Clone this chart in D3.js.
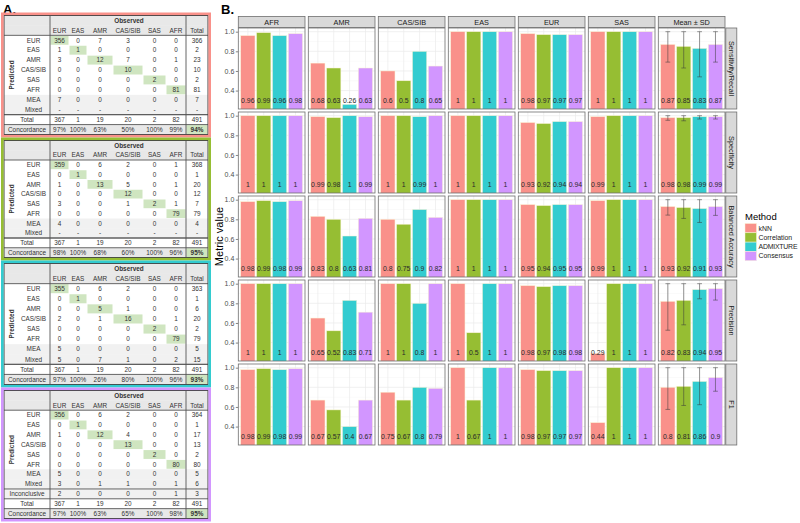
<!DOCTYPE html>
<html><head><meta charset="utf-8">
<script src="https://cdn.jsdelivr.net/npm/d3@7"></script>
<style>body{margin:0;background:#fff} svg{display:block;font-family:"Liberation Sans",Arial,sans-serif}</style>
</head><body><svg id="c" width="800" height="523"></svg>
<script>
// ---------------- DATA ----------------
const methods = ["kNN", "Correlation", "ADMIXTURE", "Consensus"];
const methodColors = ["#F8766D", "#7CAE00", "#00BFC4", "#C77CFF"];
const populations = ["AFR", "AMR", "CAS/SIB", "EAS", "EUR", "SAS"];
const meanLabel = "Mean \u00b1 SD";
const metrics = ["Sensitivity/Recall", "Specificity", "Balanced Accuracy", "Precision", "F1"];
const yTicks = [0.4, 0.6, 0.8, 1.0];

// values per population (rows) x method (cols)
const sensitivity = [[0.96,0.99,0.96,0.98],[0.68,0.63,0.26,0.63],[0.6,0.5,0.8,0.65],[1,1,1,1],[0.98,0.97,0.97,0.97],[1,1,1,1]];
const specificity = [[1,1,1,1],[0.99,0.98,1,0.99],[1,1,0.99,1],[1,1,1,1],[0.93,0.92,0.94,0.94],[0.99,1,1,1]];
const balancedAcc = [[0.98,0.99,0.98,0.99],[0.83,0.8,0.63,0.81],[0.8,0.75,0.9,0.82],[1,1,1,1],[0.95,0.94,0.95,0.95],[0.99,1,1,1]];
const precision   = [[1,1,1,1],[0.65,0.52,0.83,0.71],[1,1,0.8,1],[1,0.5,1,1],[0.98,0.97,0.98,0.98],[0.29,1,1,1]];
const f1          = [[0.98,0.99,0.98,0.99],[0.67,0.57,0.4,0.67],[0.75,0.67,0.8,0.79],[1,0.67,1,1],[0.98,0.97,0.97,0.97],[0.44,1,1,1]];
const metricValues = [sensitivity, specificity, balancedAcc, precision, f1];

// Mean and SD per metric x method
const meanVals = [[0.87,0.85,0.83,0.87],[0.98,0.98,0.99,0.99],[0.93,0.92,0.91,0.93],[0.82,0.83,0.94,0.95],[0.8,0.81,0.86,0.9]];
const sdVals   = [[0.18,0.22,0.29,0.18],[0.027,0.032,0.024,0.024],[0.087,0.111,0.142,0.09],[0.294,0.249,0.094,0.117],[0.225,0.195,0.237,0.14]];

// Confusion tables (panel A)
const obsCols = ["EUR","EAS","AMR","CAS/SIB","SAS","AFR","Total"];
const predRows = ["EUR","EAS","AMR","CAS/SIB","SAS","AFR","MEA","Mixed"];
const totalRow = ["367","1","19","20","2","82","491"];
const knnTable = [
  ["356","0","7","3","0","0","366"],["1","1","0","0","0","0","2"],["3","0","12","7","0","1","23"],
  ["0","0","0","10","0","0","10"],["0","0","0","0","2","0","2"],["0","0","0","0","0","81","81"],
  ["7","0","0","0","0","0","7"],["-","-","-","-","-","-","-"]];
const knnConc = ["97%","100%","63%","50%","100%","99%","94%"];
const corTable = [
  ["359","0","6","2","0","1","368"],["0","1","0","0","0","0","1"],["1","0","13","5","0","1","20"],
  ["0","0","0","12","0","0","12"],["3","0","0","1","2","1","7"],["0","0","0","0","0","79","79"],
  ["4","0","0","0","0","0","4"],["-","-","-","-","-","-","-"]];
const corConc = ["98%","100%","68%","60%","100%","96%","95%"];
const admTable = [
  ["355","0","6","2","0","0","363"],["0","1","0","0","0","0","1"],["0","0","5","1","0","0","6"],
  ["2","0","1","16","0","1","20"],["0","0","0","0","2","0","2"],["0","0","0","0","0","79","79"],
  ["5","0","0","0","0","0","5"],["5","0","7","1","0","2","15"]];
const admConc = ["97%","100%","26%","80%","100%","96%","93%"];
const conTable = [
  ["356","0","6","2","0","0","364"],["0","1","0","0","0","0","1"],["1","0","12","4","0","0","17"],
  ["0","0","0","13","0","0","13"],["0","0","0","0","2","0","2"],["0","0","0","0","0","80","80"],
  ["5","0","0","0","0","0","5"],["3","0","1","1","0","1","6"]];
const conInconclusive = ["2","0","0","0","0","1","3"];
const conConc = ["97%","100%","63%","65%","100%","98%","95%"];

// ---------------- DRAW ----------------
const svg = d3.select("#c");
const alphaCol = c => { const k = d3.rgb(c); const a = 0.8;
  return d3.rgb(k.r*a+255*(1-a), k.g*a+255*(1-a), k.b*a+255*(1-a)).formatHex(); };
const fills = methodColors.map(alphaCol);

svg.append("text").attr("x",3).attr("y",13.5).attr("font-size",13).attr("font-weight","bold").text("A.");
svg.append("text").attr("x",221).attr("y",13.5).attr("font-size",13).attr("font-weight","bold").text("B.");

// ---- Panel B ----
const px0 = 238.3, pw = 66.7, pstep = 70, py0 = 28, ph = 81, pvstep = 84;
const yDom = [0.2125, 1.0375];
const colNames = populations.concat([meanLabel]);
const defs = svg.append("defs");

colNames.forEach((cn, c) => {
  const x0 = px0 + c*pstep;
  svg.append("rect").attr("x",x0).attr("y",16.5).attr("width",pw).attr("height",11)
    .attr("fill","#d9d9d9").attr("stroke","#6e6e6e").attr("stroke-width",0.8);
  svg.append("text").attr("x",x0+pw/2).attr("y",24.7).attr("text-anchor","middle")
    .attr("font-size",7.3).attr("fill","#1a1a1a").text(cn);
});

metrics.forEach((m, r) => {
  const yTop = py0 + r*pvstep;
  const y = d3.scaleLinear().domain(yDom).range([yTop+ph, yTop]);
  svg.append("rect").attr("x",px0+6*pstep+pw+0.8).attr("y",yTop).attr("width",11).attr("height",ph)
    .attr("fill","#d9d9d9").attr("stroke","#6e6e6e").attr("stroke-width",0.8);
  const sx = px0+6*pstep+pw+0.8+5.5, sy = yTop+ph/2;
  svg.append("text").attr("transform",`translate(${sx},${sy}) rotate(90)`).attr("text-anchor","middle")
    .attr("dy","0.35em").attr("font-size",7.3).attr("fill","#1a1a1a").text(m);
  const ax = svg.append("g").attr("transform",`translate(${px0},0)`)
    .call(d3.axisLeft(y).tickValues(yTicks).tickFormat(d3.format(".1f")).tickSize(2.5).tickPadding(1.5));
  ax.select(".domain").remove();
  ax.selectAll("line").attr("stroke","#333").attr("stroke-width",0.6);
  ax.selectAll("text").attr("font-size",7).attr("fill","#4d4d4d").attr("font-family","Liberation Sans, Arial, sans-serif");

  colNames.forEach((cn, c) => {
    const x0 = px0 + c*pstep;
    const x = d3.scaleBand().domain(methods).range([x0, x0+pw]).paddingInner(0.1).paddingOuter(0.15);
    const g = svg.append("g");
    const cid = `clip${r}_${c}`;
    defs.append("clipPath").attr("id",cid).append("rect").attr("x",x0).attr("y",yTop).attr("width",pw).attr("height",ph);
    g.append("rect").attr("x",x0).attr("y",yTop).attr("width",pw).attr("height",ph).attr("fill","#fff");
    const gg = g.append("g").attr("clip-path",`url(#${cid})`);
    const minor = d3.range(0.3, 1.01, 0.2);
    gg.selectAll(".mn").data(minor).join("line").attr("x1",x0).attr("x2",x0+pw)
      .attr("y1",d=>y(d)).attr("y2",d=>y(d)).attr("stroke","#f2f2f2").attr("stroke-width",0.4);
    gg.selectAll(".mj").data(yTicks).join("line").attr("x1",x0).attr("x2",x0+pw)
      .attr("y1",d=>y(d)).attr("y2",d=>y(d)).attr("stroke","#ebebeb").attr("stroke-width",0.7);
    gg.selectAll(".vg").data(methods).join("line").attr("x1",d=>x(d)+x.bandwidth()/2).attr("x2",d=>x(d)+x.bandwidth()/2)
      .attr("y1",yTop).attr("y2",yTop+ph).attr("stroke","#ebebeb").attr("stroke-width",0.7);
    const vals = c < 6 ? metricValues[r][c] : meanVals[r];
    gg.selectAll(".bar").data(vals).join("rect")
      .attr("x",(d,i)=>x(methods[i])).attr("width",x.bandwidth())
      .attr("y",d=>y(d)).attr("height",d=>y(0)-y(d))
      .attr("fill",(d,i)=>fills[i]).attr("stroke","#fbf3d5").attr("stroke-width",0.5);
    if (c === 6) {
      const eb = gg.selectAll(".eb").data(vals).join("g").attr("stroke","#3a3a3a").attr("stroke-opacity",0.65).attr("stroke-width",0.8);
      eb.each(function(d,i){
        const cx = x(methods[i]) + x.bandwidth()/2;
        const lo = d - sdVals[r][i], hi = Math.min(1, d + sdVals[r][i]);
        const s = d3.select(this), hw = x.step()*0.15;
        s.append("line").attr("x1",cx).attr("x2",cx).attr("y1",y(lo)).attr("y2",y(hi));
        s.append("line").attr("x1",cx-hw).attr("x2",cx+hw).attr("y1",y(lo)).attr("y2",y(lo));
        s.append("line").attr("x1",cx-hw).attr("x2",cx+hw).attr("y1",y(hi)).attr("y2",y(hi));
      });
    }
    gg.selectAll(".lab").data(vals).join("text")
      .attr("x",(d,i)=>x(methods[i])+x.bandwidth()/2).attr("y",y(0.3)).attr("dy","0.35em")
      .attr("text-anchor","middle").attr("font-size",6.9).attr("fill","#2a2a2a").text(d=>String(d));
    g.append("rect").attr("x",x0).attr("y",yTop).attr("width",pw).attr("height",ph)
      .attr("fill","none").attr("stroke","#6e6e6e").attr("stroke-width",0.8);
  });
});

svg.append("text").attr("transform",`translate(${223},${py0 + (4*pvstep+ph)/2}) rotate(-90)`)
  .attr("text-anchor","middle").attr("font-size",11).attr("fill","#000").text("Metric value");

// legend
const lg = svg.append("g");
lg.append("text").attr("x",745).attr("y",220).attr("font-size",9.5).attr("fill","#000").text("Method");
methods.forEach((m,i)=>{
  const ly = 223.5 + i*9.3;
  lg.append("rect").attr("x",745).attr("y",ly).attr("width",11.5).attr("height",9.3).attr("fill",fills[i])
    .attr("stroke","#fbf3d5").attr("stroke-width",0.5);
  lg.append("text").attr("x",758.5).attr("y",ly+4.65).attr("dy","0.35em").attr("font-size",6.9)
    .attr("textLength", m === "ADMIXTURE" ? 39 : null).attr("fill","#1a1a1a").text(m);
});

// ---- Panel A tables ----
const colEdges = [4, 17, 50, 69, 87, 113, 143, 166, 186, 208];
const green = "#cfe5c0";
function drawTable(top, bottom, colorIdx, body, conc, extra) {
  const g = svg.append("g");
  const rows = [];
  rows.push({type:"obs"}); rows.push({type:"head"});
  body.forEach((v,i)=>rows.push({type:"pred", label:predRows[i], vals:v, idx:i}));
  if (extra) rows.push({type:"extra", label:"Inconclusive", vals:extra});
  rows.push({type:"total", label:"Total", vals:totalRow});
  rows.push({type:"conc", label:"Concordance", vals:conc});
  const it = top+2.5, ib = bottom-2.5;
  const rh = (ib-it)/rows.length;
  const L = colEdges[0], R = colEdges[colEdges.length-1];
  const cx = j => (colEdges[j+2]+colEdges[j+3])/2;
  rows.forEach((row,k)=>{
    const ry = it + k*rh;
    let bg = "#ffffff";
    if (row.type==="obs"||row.type==="head"||row.type==="conc") bg = "#e8e8e8";
    if (row.type==="pred" && row.idx>=6) bg = "#f1f1f1";
    if (row.type==="extra") bg = "#f1f1f1";
    g.append("rect").attr("x",L).attr("y",ry).attr("width",R-L).attr("height",rh+0.3).attr("fill",bg);
    const ty = ry + rh/2;
    const txt = (x,s,opt={}) => g.append("text").attr("x",x).attr("y",ty).attr("dy","0.35em")
      .attr("text-anchor","middle").attr("font-size",opt.fs||6.4).attr("font-weight",opt.bold?"bold":"normal")
      .attr("fill","#333").text(s);
    if (row.type==="obs") txt((colEdges[2]+R)/2, "Observed", {bold:true});
    if (row.type==="head") obsCols.forEach((c,j)=>txt(cx(j), c));
    if (row.type==="pred") {
      if (row.idx<6) g.append("rect").attr("x",colEdges[row.idx+2]+0.5).attr("y",ry+0.5)
        .attr("width",colEdges[row.idx+3]-colEdges[row.idx+2]-1).attr("height",rh-1).attr("fill",green);
      txt((colEdges[1]+colEdges[2])/2, row.label);
      row.vals.forEach((v,j)=>txt(cx(j), v));
    }
    if (row.type==="extra"||row.type==="total"||row.type==="conc") {
      if (row.type==="conc") g.append("rect").attr("x",colEdges[8]+0.5).attr("y",ry+0.5)
        .attr("width",colEdges[9]-colEdges[8]-1).attr("height",rh-1).attr("fill",green);
      txt((L+colEdges[2])/2, row.label);
      row.vals.forEach((v,j)=>txt(cx(j), v, {bold: row.type==="conc" && j===6}));
    }
  });
  const pTop = it + 2*rh, pBot = it + 10*rh;
  g.append("text").attr("transform",`translate(${(colEdges[0]+colEdges[1])/2+1},${(pTop+pBot)/2}) rotate(-90)`)
    .attr("text-anchor","middle").attr("dy","0.35em").attr("font-size",6.4).attr("font-weight","bold").attr("fill","#333").text("Predicted");
  const ln = (x1,y1,x2,y2,w) => g.append("line").attr("x1",x1).attr("y1",y1).attr("x2",x2).attr("y2",y2)
    .attr("stroke","#555").attr("stroke-width",w);
  ln(colEdges[2], it, colEdges[2], ib, 0.9);
  ln(colEdges[8], it, colEdges[8], ib, 0.9);
  ln(L, it+2*rh, R, it+2*rh, 0.9);
  const nPredEnd = 2 + body.length;
  ln(L, it+nPredEnd*rh, R, it+nPredEnd*rh, 0.9);
  ln(L, ib-2*rh, R, ib-2*rh, 0.9);
  ln(L, ib-rh, R, ib-rh, 0.9);
  g.append("rect").attr("x",L).attr("y",it).attr("width",R-L).attr("height",ib-it)
    .attr("fill","none").attr("stroke","#444").attr("stroke-width",1);
  g.append("rect").attr("x",L-1.7).attr("y",top+0.8).attr("width",R-L+3.4).attr("height",bottom-top-1.6)
    .attr("fill","none").attr("stroke",fills[colorIdx]).attr("stroke-width",2.6);
}
drawTable(13, 137, 0, knnTable, knnConc);
drawTable(138, 260, 1, corTable, corConc);
drawTable(261, 387, 2, admTable, admConc);
drawTable(388, 521, 3, conTable, conConc, conInconclusive);
</script></body></html>
